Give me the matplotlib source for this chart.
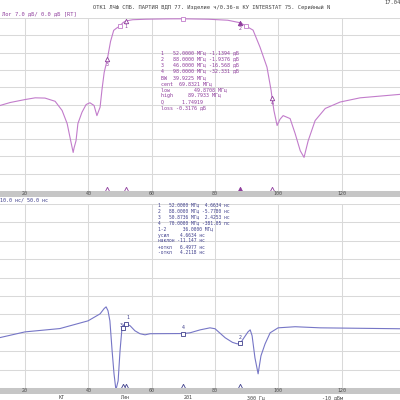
"""
Network analyser screen: log magnitude (top) and group delay (bottom)
of a band-pass filter, redrawn with matplotlib.
"""

import matplotlib

matplotlib.use("Agg")
import matplotlib.pyplot as plt
from matplotlib.transforms import blended_transform_factory

F_START, F_STOP = 12.1, 138.4

# log magnitude trace (MHz, dB)
mag_freq = [12.1, 15.3, 20.0, 23.2, 26.3, 29.5, 31.7, 33.3, 34.2, 35.2, 35.5,
            36.1, 36.7, 38.0, 39.3, 40.5, 41.8, 42.7, 43.7, 44.3, 45.0, 46.0,
            47.0, 48.0, 48.9, 49.9, 51.0, 52.0, 54.0, 58.0, 65.0, 69.8, 78.0,
            84.0, 88.0, 89.8, 92.0, 94.2, 96.4, 97.7, 98.0, 98.6, 99.6, 100.5,
            101.5, 103.7, 105.3, 106.9, 108.1, 109.4, 111.6, 114.8, 119.5,
            125.8, 132.1, 138.4]
mag_db = [-35.4, -34.2, -33.0, -32.3, -32.4, -33.7, -37.4, -42.7, -48.3,
          -54.4, -52.5, -49.7, -42.7, -38.1, -35.0, -34.3, -35.4, -39.5, -36.1,
          -29.0, -22.0, -16.6, -9.5, -5.0, -4.1, -3.3, -1.8, -1.14, -0.7, -0.5,
          -0.35, -0.32, -0.5, -0.9, -1.94, -3.3, -4.9, -11.8, -19.9, -29.3,
          -32.3, -37.5, -43.5, -41.0, -39.5, -40.7, -46.8, -53.7, -56.4, -49.7,
          -41.5, -36.6, -34.0, -32.3, -31.6, -30.9]

# group delay trace (MHz, ns)
gd_freq = [12.1, 20.0, 31.0, 39.9, 43.7, 45.0, 45.6, 46.2, 46.8, 47.5, 48.1,
           48.7, 49.4, 50.0, 50.6, 51.3, 51.8, 52.2, 53.2, 54.7, 56.3, 57.9,
           59.5, 69.9, 72.1, 75.3, 78.4, 80.0, 83.2, 85.5, 87.0, 88.0, 88.9,
           90.4, 91.1, 91.7, 92.6, 93.6, 94.5, 95.8, 97.4, 99.9, 105.3, 113.2,
           138.4]
gd_ns = [-2.6, 0.5, 2.3, 6.5, 10.3, 13.2, 14.1, 12.0, 6.5, -9.8, -22.3, -31.0,
         -26.1, -9.8, 2.2, 4.6, 5.0, 4.7, 3.8, 1.1, -0.5, -1.1, -0.5, -0.4, 0.0,
         1.6, 2.7, 2.2, -2.7, -5.2, -6.0, -5.78, -3.3, 0.5, 1.6, -1.6, -13.6,
         -22.3, -12.5, -6.0, 0.0, 2.7, 3.3, 2.7, 2.2]

mag_marker_freq = [52.0, 88.0, 46.0, 98.0]
mag_marker_db = [-1.1394, -1.9376, -16.568, -32.331]
bw_freq = [49.8708, 69.8321, 89.7933]
bw_db = [-3.3, -0.3176, -3.3]

gd_marker_freq = [52.0, 88.0, 50.8736, 70.0]
gd_marker_ns = [4.6634, -5.7780, 2.4253, -0.38105]

grid_freq = [20, 40, 60, 80, 100, 120]

title = "ОТК1 ЛЧФ СПБ. ПАРТИЯ ВДП 77. Изделие ч/0.36-в КУ INTERSTAT 75. Серийный N"
mag_header = "Лог 7.0 дБ/ 0.0 дБ [RT]"
gd_header = "10.0 нс/ 50.0 нс"
mag_table = [
    "1   52.0000 МГц -1.1394 дБ",
    "2   88.0000 МГц -1.9376 дБ",
    "3   46.0000 МГц -16.568 дБ",
    "4   98.0000 МГц -32.331 дБ",
    "BW  39.9225 МГц",
    "cent  69.8321 МГц",
    "low        49.8708 МГц",
    "high     89.7933 МГц",
    "Q      1.74919",
    "loss -0.3176 дБ",
]
gd_table = [
    "1   52.0000 МГц  4.6634 нс",
    "2   88.0000 МГц -5.7780 нс",
    "3   50.8736 МГц  2.4253 нс",
    "4   70.0000 МГц -381.05 пс",
    "1-2      36.0000 МГц",
    "усил    4.6634 нс",
    "наклон -11.147 нс",
    "+откл   6.4977 нс",
    "-откл   4.2118 нс",
]
status_labels = ["КТ", "Лин", "201", "300 Гц", "-10 дБм"]

MAG_COLOR = "#c27ccb"
MAG_TEXT = "#8e3c9c"
GD_COLOR = "#7676c6"
GD_TEXT = "#3f3f8c"
GRID = "#d9d9d9"
BAR = "#c6c6c6"
MONO = "DejaVu Sans Mono"


def px(y):
    """screen pixel row -> figure fraction"""
    return 1 - y / 400.0


def setup_panel(ax, ylim, step):
    ax.set_xlim(F_START, F_STOP)
    ax.set_ylim(*ylim)
    ax.set_xticks(grid_freq)
    ax.set_yticks(range(ylim[0], ylim[1] + 1, step))
    ax.grid(True, color=GRID, linewidth=0.75)
    ax.tick_params(length=0, labelbottom=False, labelleft=False)
    for s in ax.spines.values():
        s.set_visible(False)


def axis_bar(fig, y_top, height):
    bar = fig.add_axes([0, px(y_top + height), 1, height / 400.0])
    bar.set_facecolor(BAR)
    bar.set_xlim(F_START, F_STOP)
    bar.set_ylim(0, 1)
    bar.set_xticks([])
    bar.set_yticks([])
    for s in bar.spines.values():
        s.set_visible(False)
    for f in grid_freq:
        bar.text(f, 0.5, str(f), ha="center", va="center", fontsize=3.6,
                 family=MONO, color="#505050")
    return bar


def bar_triangles(ax, freqs, filled, color):
    tr = blended_transform_factory(ax.transData, ax.transAxes)
    for i, f in enumerate(freqs):
        ax.plot(f, 0.012, marker="^", ms=3.2, mec=color, mew=0.6,
                mfc=color if i == filled else "white", transform=tr,
                clip_on=False, zorder=5)


def main():
    fig = plt.figure(figsize=(4, 4), dpi=100)
    fig.patch.set_facecolor("white")

    fig.text(0.53, px(7), title, ha="center", va="center", fontsize=3.9,
             family=MONO, color="#404040")
    fig.text(0.96, px(2), "17.04", ha="left", va="center", fontsize=3.9,
             family=MONO, color="#404040")

    # top panel: log magnitude
    ax1 = fig.add_axes([0, px(191), 1, 173 / 400.0])
    setup_panel(ax1, (-70, 0), 7)
    ax1.plot(mag_freq, mag_db, color=MAG_COLOR, lw=0.8)
    fig.text(0.005, px(14), mag_header, ha="left", va="center", fontsize=3.9,
             family=MONO, color=MAG_TEXT)
    ax1.plot(bw_freq, bw_db, ls="none", marker="s", ms=2.6, mfc="white",
             mec=MAG_COLOR, mew=0.6, clip_on=False, zorder=4)
    for i, (f, v) in enumerate(zip(mag_marker_freq, mag_marker_db)):
        ax1.plot(f, v, marker="^", ms=3.2, mec=MAG_TEXT, mew=0.6,
                 mfc=MAG_TEXT if i == 1 else "white", clip_on=False, zorder=5)
        ax1.annotate(str(i + 1), (f, v), xytext=(0, -4), textcoords="offset points",
                     ha="center", va="center", fontsize=3.6, family=MONO,
                     color=MAG_TEXT)
    bar_triangles(ax1, mag_marker_freq, 1, MAG_TEXT)
    for i, line in enumerate(mag_table):
        y = 53 + 6 * i + (1 if i >= 4 else 0)
        fig.text(161 / 400.0, px(y), line, ha="left", va="center", fontsize=3.6,
                 family=MONO, color=MAG_TEXT)

    axis_bar(fig, 191, 6)

    # bottom panel: group delay
    fig.text(0.0, px(200), gd_header, ha="left", va="center", fontsize=3.6,
             family=MONO, color=GD_TEXT)
    ax2 = fig.add_axes([0, px(388), 1, 184 / 400.0])
    setup_panel(ax2, (-30, 70), 10)
    ax2.plot(gd_freq, gd_ns, color=GD_COLOR, lw=0.8)
    offsets = [(1, 5), (0, 4), (-1, 2), (0, 4)]
    for i, (f, v) in enumerate(zip(gd_marker_freq, gd_marker_ns)):
        ax2.plot(f, v, marker="s", ms=2.4, mec=GD_TEXT, mew=0.6, mfc="white",
                 zorder=5)
        ax2.annotate(str(i + 1), (f, v), xytext=offsets[i],
                     textcoords="offset points", ha="center", va="center",
                     fontsize=3.6, family=MONO, color=GD_TEXT)
    bar_triangles(ax2, gd_marker_freq, -1, GD_TEXT)
    for i, line in enumerate(gd_table):
        y = 205 + 6 * i
        fig.text(158 / 400.0, px(y), line, ha="left", va="center", fontsize=3.3,
                 family=MONO, color=GD_TEXT)

    axis_bar(fig, 388, 6)

    # status line, all on one baseline
    for label, x in zip(status_labels, [62, 125, 188, 256, 332]):
        fig.text(x / 400.0, px(399), label, ha="center", va="baseline",
                 fontsize=3.6, family=MONO, color="#404040")

    fig.savefig("out.png", dpi=100, facecolor="white")
    plt.close(fig)


if __name__ == "__main__":
    main()
